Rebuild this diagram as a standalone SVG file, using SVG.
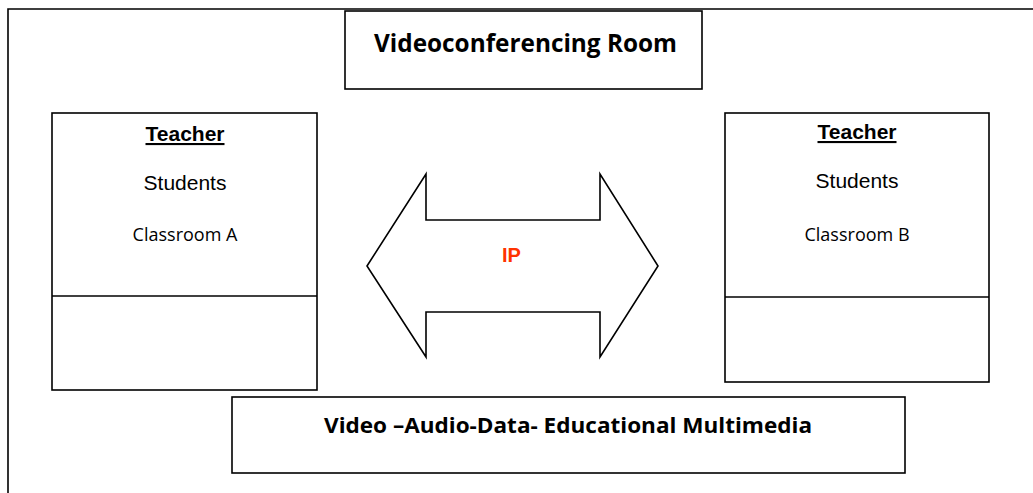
<svg xmlns="http://www.w3.org/2000/svg" width="1033" height="493" viewBox="0 0 1033 493">
<style>
.box{fill:#fff;stroke:#000;stroke-width:1.6}
.ln{fill:none;stroke:#000;stroke-width:1.6}
.title{font-family:"Open Sans","Liberation Sans",sans-serif;font-weight:bold;fill:#000;text-anchor:middle}
.teacher{font-family:"Liberation Sans",Arial,sans-serif;font-weight:bold;font-size:21px;fill:#000;text-anchor:middle;text-decoration:underline}
.stud{font-family:"Liberation Sans",Arial,sans-serif;font-size:21px;fill:#000;text-anchor:middle}
.room{font-family:"Open Sans","Liberation Sans",sans-serif;font-size:18px;fill:#000;text-anchor:middle}
.ip{font-family:"Liberation Sans",Arial,sans-serif;font-weight:bold;font-size:20px;fill:#FF3300;text-anchor:middle}
</style>
<rect width="1033" height="493" fill="#fff"/>
<path class="ln" d="M8,493 V9 H1033"/>
<g id="videoconferencing-room">
<rect class="box" x="345" y="11" width="357" height="78"/>
<text class="title" x="525.5" y="52" font-size="25" textLength="303" lengthAdjust="spacingAndGlyphs">Videoconferencing Room</text>
</g>
<g id="classroom-a">
<rect class="box" x="52" y="113" width="265" height="277"/>
<line class="ln" x1="52" y1="296" x2="317" y2="296"/>
<text class="teacher" x="185" y="141">Teacher</text>
<text class="stud" x="185" y="190">Students</text>
<text class="room" x="185" y="241">Classroom A</text>
</g>
<g id="classroom-b">
<rect class="box" x="725" y="113" width="264" height="269"/>
<line class="ln" x1="725" y1="297" x2="989" y2="297"/>
<text class="teacher" x="857" y="139">Teacher</text>
<text class="stud" x="857" y="188">Students</text>
<text class="room" x="857" y="241">Classroom B</text>
</g>
<g id="connectors">
<g id="ip-arrow">
<polygon class="box" points="367,266 426,174 426,220 600,220 600,174 658,266 600,357 600,312 426,312 426,357"/>
<text class="ip" x="511.5" y="262">IP</text>
</g>
</g>
<g id="multimedia">
<rect class="box" x="232" y="397" width="673" height="76"/>
<text class="title" x="568" y="433" font-size="22" textLength="488" lengthAdjust="spacingAndGlyphs">Video –Audio-Data- Educational Multimedia</text>
</g>
</svg>
